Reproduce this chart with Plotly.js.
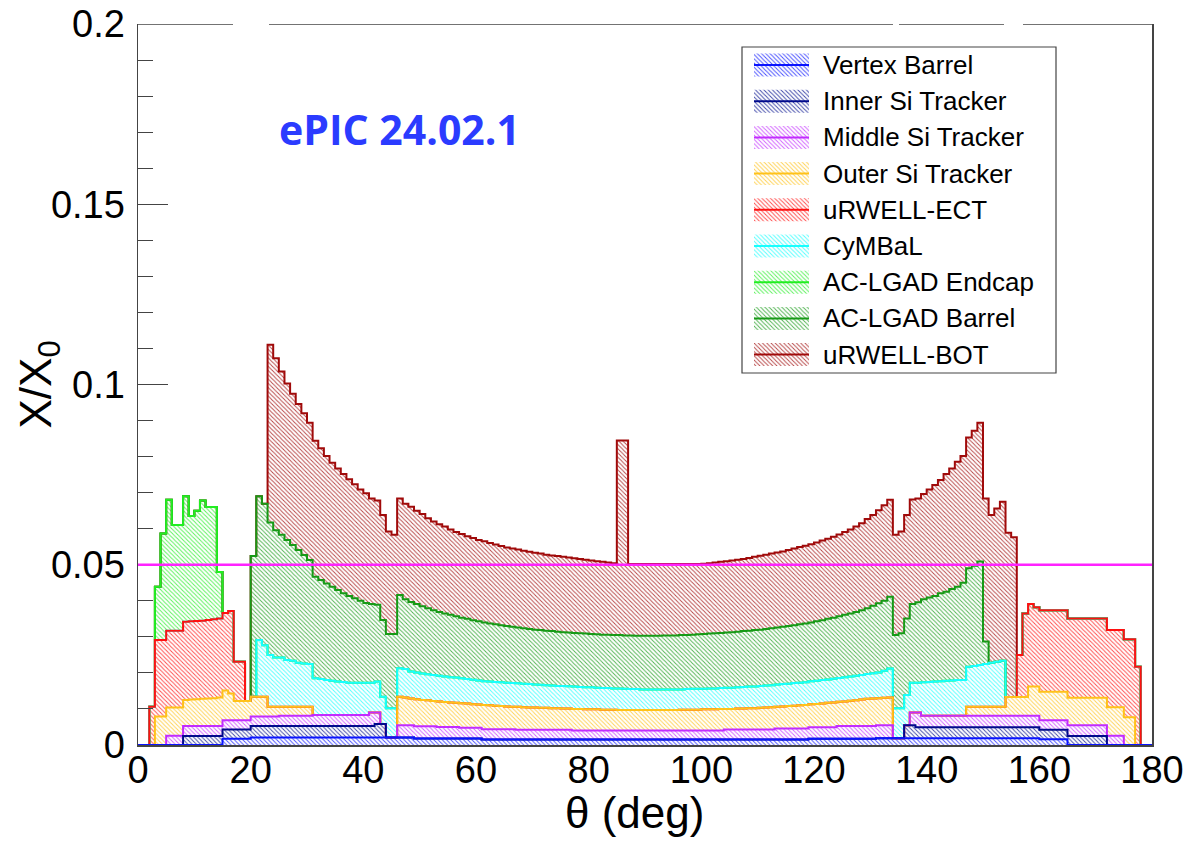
<!DOCTYPE html>
<html>
<head>
<meta charset="utf-8">
<script src="https://cdn.plot.ly/plotly-3.0.1.min.js"></script>
<style>
html,body{margin:0;padding:0;background:#fff;}
#chart{width:1193px;height:841px;}
</style>
</head>
<body>
<div id="chart"></div>
<script>
// ---------------- data (X/X0 per layer, 1-degree bins in theta from 0 to 180) ----------------
const thetaMin = 0;
const thetaMax = 180;
const binWidth = 1;

const layerNames = ["Vertex Barrel", "Inner Si Tracker", "Middle Si Tracker", "Outer Si Tracker",
  "uRWELL-ECT", "CyMBaL", "AC-LGAD Endcap", "AC-LGAD Barrel", "uRWELL-BOT"];
const layerColors = ["#0a14ff", "#000a8c", "#c22cff", "#ffc21a", "#ff1010", "#18ffff", "#22ee22", "#169a16", "#a00a0a"];

const xTickLabels = ["0", "20", "40", "60", "80", "100", "120", "140", "160", "180"];
const yTickLabels = ["0", "0.05", "0.1", "0.15", "0.2"];
const referenceLevel = 0.05;

// each run: [first bin index, values...]
const vertexBarrel = [[15, [
  .0017,.0017,.0017,.0017,.0017,
  .0021,.0021,.0021,.0021,.0021,.0021,.0021,.0021,.0021,.0021,
  .0021,.0021,.0021,.0021,.0021,.0021,.0021,.0021,.0021,.0021,
  .0021,.0021,.0021,.0021,.0021,.0021,.0021,.0021,.0021,
  .0018,.0018,.0018,.0018,.0018,.0018,.0018,.0018,.0018,.0018,.0018,.0018,
  .0015,.0015,.0015,.0015,.0015,.0015,.0015,.0015,.0015,.0015,
  .0015,.0015,.0015,.0015,.0015,.0015,.0015,.0015,.0015,.0015,
  .0015,.0015,.0015,.0015,.0015,.0015,.0015,.0015,.0015,.0015,
  .0015,.0015,.0015,.0015,.0015,.0015,.0015,.0015,.0015,.0015,
  .0015,.0015,.0015,.0015,.0015,.0015,.0015,.0015,.0015,.0015,
  .0015,.0015,.0015,.0015,.0015,.0015,.0015,.0015,
  .0017,.0017,.0017,.0017,.0017,.0017,.0017,.0017,.0017,.0017,.0017,.0017,
  .0019,.0019,.0019,.0019,.0019,.0019,.0019,.0019,.0019,.0019,
  .0019,.0019,.0019,.0019,.0019,.0019,.0019,.0019,.0019,.0019,
  .0019,.0019,.0019,.0019,.0019,.0019,.0019,.0019,.0019,
  .0016,.0016,.0016,.0016,.0016]]];

const innerSiTracker = [
  [8, [.0025,.0025,.0025,.0025,.0025,.0025,.0025,
       .0026,.0026,.0026,.0026,.0026,
       .0032,.0032,.0032,.0032,.0032,.0032,.0032,.0032,.0032,.0032,.0032,
       .0032,.0032,.0032,.0032,.0032,.0032,.0032,.0032,.0032,.0032,.0032,
       .0037,.0037]],
  [136, [.0036,.0036,
       .0030,.0030,.0030,.0030,.0030,.0030,.0030,.0030,.0030,.0030,.0030,
       .0030,.0030,.0030,.0030,.0030,.0030,.0030,.0030,.0030,.0030,.0030,
       .0026,.0026,.0026,.0026,.0026,
       .0025,.0025,.0025,.0025,.0025,.0025,.0025]]];

const middleSiTracker = [
  [5, [.0026,.0026,.0026,
       .0028,.0028,.0028,.0028,.0028,.0028,.0028,
       .0026,.0026,.0026,.0026,.0026,
       .0026,.0026,.0026,.0026,.0026,
       .0028,.0028,.0028,.0028,.0028,.0028,
       .0030,.0030,.0030,.0030,.0030,.0030,.0030,.0030,.0030,.0030,
       .0037,.0032]],
  [46, [.0034,.0034,.0034,.0034,.0034,.0034,.0034,
       .0032,.0032,.0032,.0032,
       .0030,.0030,.0030,.0030,
       .0029,.0029,.0029,.0029,.0029,.0029,
       .0027,.0027,.0027,.0027,.0027,.0027,.0027,.0027,.0027,.0027,
       .0025,.0025,.0025,.0025,.0025,.0025,.0025,.0025,.0025,.0025,
       .0025,.0025,.0025,.0025,.0025,.0025,.0025,.0025,.0025,.0025,
       .0025,.0025,.0025,.0025,.0025,.0025,.0025,
       .0028,.0028,.0028,.0028,.0028,.0028,.0028,.0028,.0028,
       .0031,.0031,.0031,.0031,.0031,.0031,
       .0032,.0032,.0032,.0032,.0032,
       .0036,.0036,.0036,.0036,.0036,.0036,.0036,.0036,.0036,.0036]],
  [137, [.0035,.0041,
       .0032,.0032,.0032,.0032,.0032,.0032,.0032,.0032,.0032,.0032,.0032,
       .0032,.0032,.0032,.0032,.0032,.0032,.0032,.0032,.0032,.0032,
       .0027,.0027,.0027,.0027,.0027,
       .0030,.0030,.0030,.0030,.0030,.0030,.0030,
       .0026,.0026,.0026]]];

const outerSiTracker = [
  [3, [.0079,.0079,.0078,.0078,.0078,
       .0072,.0073,.0074,.0075,.0076,.0077,.0079,
       .0082,.0074,.0053,.0053,.0053,.0055,.0055,.0055,
       .0027,.0027,.0025,.0025,.0025,.0025,.0025,.0025]],
  [46, [.0079,.0077,.0074,.0075,.0073,.0072,.0070,.0071,.0069,.0068,
       .0067,.0068,.0067,.0065,.0064,.0067,.0066,.0065,.0064,.0063,
       .0062,.0064,.0063,.0062,.0062,.0061,.0061,.0060,.0060,.0059,
       .0059,.0060,.0060,.0059,.0059,.0059,.0058,.0058,.0058,.0057,
       .0057,.0057,.0057,.0057,.0057,.0057,.0057,.0057,.0057,.0057,
       .0058,.0058,.0058,.0058,.0059,.0059,.0059,.0060,.0057,.0057,
       .0058,.0058,.0059,.0059,.0060,.0061,.0062,.0060,.0061,.0062,
       .0063,.0064,.0065,.0064,.0065,.0066,.0068,.0069,.0067,.0068,
       .0070,.0071,.0073,.0075,.0076,.0075,.0076,.0077]],
  [147, [.0025,.0025,.0025,.0025,.0025,.0025,.0025,
       .0052,.0052,.0052,.0052,.0081,.0081,
       .0079,.0079,.0079,.0079,.0079,
       .0076,.0076,.0076,.0076,.0076,.0076,.0076,
       .0079,.0079,.0079,.0077,.0077]]];

const urwellEct = [
  [2, [.0106,.0212,.0212,.0213,.0213,.0213,.0217,.0217,.0217,.0217,
       .0218,.0219,.0219,.0215,.0229,.0109,.0109]],
  [156, [.0117,.0232,.0229,.0220,.0226,.0226,.0226,.0226,.0226,
       .0220,.0220,.0220,.0220,.0220,.0220,.0220,
       .0214,.0214,.0214,.0216,.0216,.0217]]];

const cymbal = [[21, [
  .0157,.0143,.0144,.0137,.0137,.0130,.0128,.0122,.0120,.0119,
  .0102,.0100,.0097,.0095,.0093,.0092,.0090,.0090,.0090,.0090,
  .0083,.0086,.0076,.0081,.0081,
  .0079,.0079,.0075,.0074,.0073,.0072,.0072,.0071,.0071,.0070,
  .0070,.0069,.0068,.0068,.0067,.0066,.0066,.0066,.0066,.0066,
  .0066,.0065,.0065,.0065,.0064,.0064,.0063,.0063,.0062,.0063,
  .0062,.0062,.0061,.0061,.0061,.0060,.0060,.0060,.0059,.0060,
  .0059,.0058,.0058,.0057,.0057,.0057,.0057,.0057,.0057,.0057,
  .0056,.0057,.0058,.0058,
  .0057,.0058,.0058,.0058,.0059,.0059,.0059,.0060,.0060,.0060,
  .0061,.0061,.0061,.0062,.0062,.0062,.0063,.0063,.0063,.0064,
  .0064,.0065,.0065,.0066,.0066,.0067,.0067,.0068,.0068,.0069,
  .0070,.0071,.0075,.0080,
  .0083,.0083,.0084,.0083,.0083,.0093,.0094,.0095,.0096,.0097,
  .0098,.0099,.0099,.0111,.0113,.0116,.0119,.0122,.0125,.0128]]];

const aclgadEndcap = [[3, [.0148,.0296,.0363,.0293,.0293,.0348,.0292,.0306,.0333,.0313,.0311,.0129]]];

const aclgadBarrel = [[20, [
  .0390,.0399,.0392,.0367,.0353,.0340,.0333,.0321,.0313,.0301,
  .0288,.0282,.0275,.0268,.0261,.0254,.0246,.0240,.0234,.0227,
  .0221,.0218,.0213,.0213,.0206,.0206,
  .0203,.0193,.0193,.0190,.0187,.0183,.0180,.0177,.0175,.0173,
  .0170,.0168,.0167,.0165,.0164,.0163,.0161,.0160,.0158,.0157,
  .0156,.0155,.0154,.0153,.0152,.0152,.0151,.0151,.0150,.0149,
  .0149,.0149,.0149,.0149,.0148,.0148,.0148,.0148,.0148,.0148,
  .0148,.0149,.0148,.0149,.0149,.0149,.0149,.0150,.0150,.0150,
  .0151,.0150,.0150,.0151,
  .0152,.0152,.0153,.0153,.0153,.0154,.0154,.0155,.0155,.0157,
  .0156,.0157,.0158,.0158,.0159,.0160,.0160,.0162,.0163,.0163,
  .0165,.0166,.0168,.0169,.0171,.0173,.0175,.0177,.0180,.0182,
  .0187,.0192,.0194,.0199,
  .0203,.0208,.0212,.0218,.0223,.0230,.0234,.0237,.0244,.0247,
  .0254,.0259,.0270,.0273,.0278,.0287,.0062]]];

const urwellBot = [[23, [
  .0493,.0477,.0453,.0434,.0419,.0405,.0393,.0381,.0377,.0365,
  .0354,.0344,.0337,.0331,.0324,.0316,.0309,.0304,.0293,.0289,
  .0291,.0284,.0275,
  .0268,.0265,.0264,.0259,.0256,.0250,.0246,.0243,.0241,.0237,
  .0234,.0232,.0229,.0228,.0226,.0225,.0223,.0221,.0220,.0218,
  .0217,.0216,.0215,.0214,.0213,.0212,.0211,.0210,.0210,.0209,
  .0208,.0207,.0206,.0205,.0204,.0203,.0202,.0200,.0199,.0540,
  .0541,.0198,.0199,.0199,.0199,.0199,.0199,.0198,.0198,.0198,
  .0197,.0197,.0196,.0195,
  .0195,.0195,.0196,.0197,.0198,.0199,.0200,.0200,.0202,.0203,
  .0205,.0206,.0207,.0208,.0209,.0211,.0213,.0214,.0216,.0217,
  .0219,.0221,.0222,.0225,.0227,.0230,.0233,.0237,.0241,.0248,
  .0252,.0258,.0265,.0269,
  .0278,.0282,.0287,.0290,.0288,.0292,.0300,.0308,.0314,.0327,
  .0334,.0347,.0352,.0363,.0375,.0385,.0397,.0410,.0425,.0441,.0456,.0443]]];

// ---------------- build histograms ----------------
const nBins = Math.round((thetaMax - thetaMin) / binWidth);
const edges = [];
for (let i = 0; i <= nBins; i++) edges.push(thetaMin + i * binWidth);

function toBins(runs) {
  const a = new Array(nBins).fill(0);
  runs.forEach(([start, vals]) => vals.forEach((v, j) => { a[start + j] = v; }));
  return a;
}
const layers = [vertexBarrel, innerSiTracker, middleSiTracker, outerSiTracker, urwellEct,
  cymbal, aclgadEndcap, aclgadBarrel, urwellBot].map(toBins);

const cum = [];
layers.forEach((L, k) => {
  cum.push(L.map((v, i) => v + (k > 0 ? cum[k - 1][i] : 0)));
});
const zeros = new Array(nBins).fill(0);

const traces = [];
const hatch = (c) => ({shape: "\\", fgcolor: c, bgcolor: "rgba(0,0,0,0)", size: 3, solidity: 0.32, fgopacity: 0.75});

// hatched fill of each layer (between stack levels)
for (let k = 0; k < layers.length; k++) {
  const top = cum[k], bot = k > 0 ? cum[k - 1] : zeros;
  const xs = [], ys = [];
  for (let i = 0; i < nBins; i++) { xs.push(edges[i], edges[i + 1]); ys.push(top[i], top[i]); }
  for (let i = nBins - 1; i >= 0; i--) { xs.push(edges[i + 1], edges[i]); ys.push(bot[i], bot[i]); }
  traces.push({x: xs, y: ys, type: "scatter", mode: "lines", fill: "toself",
    fillcolor: "rgba(0,0,0,0)", fillpattern: hatch(layerColors[k]),
    line: {width: 0, color: "rgba(0,0,0,0)"}, hoverinfo: "skip", showlegend: false});
}
// outlines, upper stack levels first so lower ones end up on top (THStack order)
for (let k = layers.length - 1; k >= 0; k--) {
  traces.push({x: edges, y: cum[k].concat([cum[k][nBins - 1]]), type: "scatter", mode: "lines",
    line: {shape: "hv", width: 2, color: layerColors[k]}, hoverinfo: "skip", showlegend: false});
}

// ---------------- legend (drawn in a pixel-space overlay axis) ----------------
const W = 1193, H = 841;
const M = {l: 138, r: 41, t: 24, b: 96};
const leg = {x0: 742, x1: 1056, y0: 47, y1: 373, row0: 65, dy: 36.2, sx0: 754, sx1: 809, sh: 11.5, tx: 821};
const annotations = [];
layerNames.forEach((name, j) => {
  const yc = leg.row0 + j * leg.dy;
  traces.push({x: [leg.sx0, leg.sx1, leg.sx1, leg.sx0, leg.sx0], y: [yc - leg.sh, yc - leg.sh, yc + leg.sh, yc + leg.sh, yc - leg.sh],
    xaxis: "x2", yaxis: "y2", type: "scatter", mode: "lines", fill: "toself", fillcolor: "rgba(0,0,0,0)",
    fillpattern: hatch(layerColors[j]), line: {width: 0, color: "rgba(0,0,0,0)"}, hoverinfo: "skip", showlegend: false});
  traces.push({x: [leg.sx0, leg.sx1], y: [yc, yc], xaxis: "x2", yaxis: "y2", type: "scatter", mode: "lines",
    line: {width: 2, color: layerColors[j]}, hoverinfo: "skip", showlegend: false});
  annotations.push({xref: "x2", yref: "y2", x: leg.tx, y: yc, xanchor: "left", yanchor: "middle", showarrow: false,
    text: name, font: {family: "Liberation Sans, Arial, sans-serif", size: 26, color: "#000"}});
});

annotations.push({xref: "paper", yref: "paper", x: (277 - M.l) / (W - M.l - M.r), y: (H - M.b - 129) / (H - M.t - M.b),
  xanchor: "left", yanchor: "middle", showarrow: false, text: "<b>ePIC 24.02.1</b>",
  font: {family: "Open Sans, sans-serif", size: 41, color: "#2b3bff"}});
annotations.push({xref: "paper", yref: "paper", x: (38 - M.l) / (W - M.l - M.r), y: 0.5, textangle: -90,
  xanchor: "center", yanchor: "middle", showarrow: false, text: "X/X<sub>0</sub>",
  font: {family: "Liberation Sans, Arial, sans-serif", size: 44, color: "#000"}});
annotations.push({xref: "paper", yref: "paper", x: (634 - M.l) / (W - M.l - M.r), y: -(812 - (H - M.b)) / (H - M.t - M.b),
  xanchor: "center", yanchor: "middle", showarrow: false, text: "θ (deg)",
  font: {family: "Liberation Sans, Arial, sans-serif", size: 44, color: "#000"}});

const frameColor = "#444";
const shapes = [
  {type: "line", xref: "paper", yref: "y", x0: 0, x1: 1, y0: referenceLevel, y1: referenceLevel,
   line: {color: "#ff22ff", width: 2.5}, layer: "above"},
  {type: "rect", xref: "x2", yref: "y2", x0: leg.x0, x1: leg.x1, y0: leg.y0, y1: leg.y1,
   line: {color: "#444", width: 1.2}, fillcolor: "rgba(0,0,0,0)", layer: "above"}
];
// top frame line (drawn in segments like the reference)
[[138, 233], [269, 893], [899, 1004], [1023, 1152]].forEach(([a, b]) => {
  shapes.push({type: "line", xref: "x2", yref: "y2", x0: a, x1: b, y0: M.t, y1: M.t, line: {color: frameColor, width: 1.5}, layer: "above"});
});

const tickFont = {family: "Liberation Sans, Arial, sans-serif", size: 38, color: "#000"};
const layout = {
  width: W, height: H, margin: M, paper_bgcolor: "#fff", plot_bgcolor: "#fff", showlegend: false,
  xaxis: {range: [thetaMin, thetaMax], tickmode: "array", tickvals: xTickLabels.map(Number), ticktext: xTickLabels,
    ticks: "", showgrid: false, zeroline: false,
    showline: true, linecolor: frameColor, linewidth: 1.5, mirror: false, tickfont: tickFont, ticklabelstandoff: -9,
    fixedrange: true},
  yaxis: {range: [0, 0.2], tickmode: "array", tickvals: yTickLabels.map(Number), ticktext: yTickLabels,
    ticks: "inside", ticklen: 30, tickcolor: frameColor, tickwidth: 1, showgrid: false, zeroline: false,
    showline: true, linecolor: frameColor, linewidth: 1.5, mirror: true, tickfont: tickFont, ticklabelstandoff: 4,
    minor: {dtick: 0.01, ticklen: 15, ticks: "inside", tickcolor: frameColor, tickwidth: 1, showgrid: false}, fixedrange: true},
  xaxis2: {overlaying: "x", range: [M.l, W - M.r], visible: false, fixedrange: true},
  yaxis2: {overlaying: "y", range: [H - M.b, M.t], visible: false, fixedrange: true},
  shapes: shapes, annotations: annotations
};

Plotly.newPlot("chart", traces, layout, {staticPlot: true, displayModeBar: false});
</script>
</body>
</html>
